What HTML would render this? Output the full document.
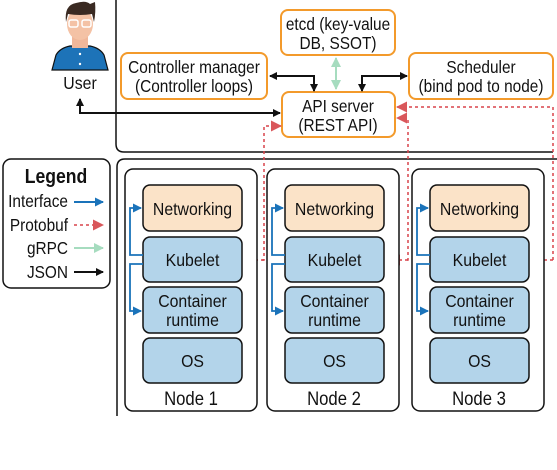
<!DOCTYPE html>
<html><head><meta charset="utf-8"><style>
html,body{margin:0;padding:0;background:#fff;}
svg{display:block;}
text{font-family:"Liberation Sans",sans-serif;fill:#111;}
</style></head><body>
<svg width="557" height="470" viewBox="0 0 557 470" xmlns="http://www.w3.org/2000/svg">
<defs>
<marker id="ab" markerWidth="8" markerHeight="8" refX="7" refY="4" orient="auto" markerUnits="userSpaceOnUse"><path d="M0,0 L8,4 L0,8 z" fill="#111"/></marker>
<marker id="ag" markerWidth="10" markerHeight="10" refX="9" refY="5" orient="auto-start-reverse" markerUnits="userSpaceOnUse"><path d="M0,0 L10,5 L0,10 z" fill="#a6dcbf"/></marker>
<marker id="ar" markerWidth="11" markerHeight="11" refX="10" refY="5.5" orient="auto" markerUnits="userSpaceOnUse"><path d="M0,0 L11,5.5 L0,11 z" fill="#d9575b"/></marker>
<marker id="au" markerWidth="9" markerHeight="9" refX="8" refY="4.5" orient="auto" markerUnits="userSpaceOnUse"><path d="M0,0 L9,4.5 L0,9 z" fill="#1a73ba"/></marker>
</defs>

<path d="M116,-5 L116,144 Q116,152 124,152 L553,152" fill="none" stroke="#111" stroke-width="1.5"/>
<path d="M117,416 L117,167 Q117,159 125,159 L557,159" fill="none" stroke="#111" stroke-width="1.5"/>

<path d="M52,70 L56,55 Q60,48 70,46 L90,46 Q100,48 104,55 L108,70 z" fill="#1d73b8" stroke="#111" stroke-width="1.2"/>
<rect x="72" y="34" width="16" height="14" fill="#f0b79a"/>
<ellipse cx="80" cy="24" rx="13" ry="16" fill="#f4c2a5"/>
<path d="M66,22 Q64,5 76,3 Q86,0 90,4 L95,2 Q96,12 94,22 L92,14 Q80,16 68,14 z" fill="#3a2a22"/>
<rect x="69" y="20" width="9" height="7" rx="2" fill="none" stroke="#fff" stroke-width="1.5"/>
<rect x="82" y="20" width="9" height="7" rx="2" fill="none" stroke="#fff" stroke-width="1.5"/>
<circle cx="80" cy="54" r="1.2" fill="#fff"/><circle cx="80" cy="64" r="1.2" fill="#fff"/>
<text transform="translate(80,89) scale(0.88,1)" font-size="18" text-anchor="middle">User</text>

<g fill="#fff" stroke="#f39a2b" stroke-width="2">
<rect x="281" y="10" width="114" height="45" rx="7"/>
<rect x="121" y="53" width="146" height="46" rx="7"/>
<rect x="409" y="53" width="144" height="46" rx="7"/>
<rect x="282" y="92" width="113" height="45" rx="7"/>
</g>
<g font-size="17.5" text-anchor="middle">
<text transform="translate(338,30) scale(0.88,1)">etcd (key-value</text><text transform="translate(338,49) scale(0.88,1)">DB, SSOT)</text>
<text transform="translate(194,73) scale(0.88,1)">Controller manager</text><text transform="translate(194,92) scale(0.88,1)">(Controller loops)</text>
<text transform="translate(481,73) scale(0.88,1)">Scheduler</text><text transform="translate(481,92) scale(0.88,1)">(bind pod to node)</text>
<text transform="translate(338,112) scale(0.88,1)">API server</text><text transform="translate(338,131) scale(0.88,1)">(REST API)</text>
</g>

<g fill="none" stroke="#111" stroke-width="2">
<path d="M314,90 L314,76 L270,76" marker-end="url(#ab)"/>
<path d="M300,76 L314,76 L314,91" marker-end="url(#ab)"/>
<path d="M362,90 L362,76 L407,76" marker-end="url(#ab)"/>
<path d="M380,76 L362,76 L362,91" marker-end="url(#ab)"/>
<path d="M200,113 L80,113 L80,99" marker-end="url(#ab)"/>
<path d="M100,113 L280,113" marker-end="url(#ab)"/>
</g>
<path d="M336,58 L336,89" stroke="#a6dcbf" stroke-width="2" fill="none" marker-start="url(#ag)" marker-end="url(#ag)"/>

<g fill="none" stroke="#d9444c" stroke-width="1.5" stroke-dasharray="3,3">
<path d="M262,260 L264,260 L264,126 L281,126" marker-end="url(#ar)"/>
<path d="M407,260 L408,260 L408,118 L397,118" marker-end="url(#ar)"/>
<path d="M553,260 L553,107 L397,107" marker-end="url(#ar)"/>
<path d="M264,260 L245,260" marker-end="url(#ar)"/>
<path d="M408,260 L390,260" marker-end="url(#ar)"/>
<path d="M553,260 L534,260" marker-end="url(#ar)"/>
</g>

<rect x="3" y="159" width="107" height="129" rx="8" fill="#fff" stroke="#111" stroke-width="1.5"/>
<text transform="translate(56,183) scale(0.88,1)" font-size="20" text-anchor="middle" font-weight="bold">Legend</text>
<g font-size="17.5" text-anchor="end">
<text transform="translate(68,207) scale(0.88,1)">Interface</text>
<text transform="translate(68,231) scale(0.88,1)">Protobuf</text>
<text transform="translate(68,254) scale(0.88,1)">gRPC</text>
<text transform="translate(68,278) scale(0.88,1)">JSON</text>
</g>
<path d="M74,202 L103,202" stroke="#1a73ba" stroke-width="2" marker-end="url(#au)"/>
<path d="M74,225 L103,225" stroke="#d9444c" stroke-width="1.5" stroke-dasharray="3,3" marker-end="url(#ar)"/>
<path d="M74,248 L103,248" stroke="#a6dcbf" stroke-width="2" marker-end="url(#ag)"/>
<path d="M74,272 L103,272" stroke="#111" stroke-width="2" marker-end="url(#ab)"/>

<g id="n1">
<rect x="125" y="169" width="132" height="242" rx="8" fill="#fff" stroke="#111" stroke-width="1.5"/>
<rect x="143" y="185" width="99" height="46" rx="7" fill="#fbe3c8" stroke="#111" stroke-width="1.5"/>
<rect x="143" y="237" width="99" height="45" rx="7" fill="#b3d4ea" stroke="#111" stroke-width="1.5"/>
<rect x="143" y="287" width="99" height="46" rx="7" fill="#b3d4ea" stroke="#111" stroke-width="1.5"/>
<rect x="143" y="338" width="99" height="45" rx="7" fill="#b3d4ea" stroke="#111" stroke-width="1.5"/>
<g font-size="18" text-anchor="middle">
<text transform="translate(192.5,215) scale(0.88,1)">Networking</text>
<text transform="translate(192.5,266) scale(0.88,1)">Kubelet</text>
<text transform="translate(192.5,307) scale(0.88,1)">Container</text><text transform="translate(192.5,326) scale(0.88,1)">runtime</text>
<text transform="translate(192.5,367) scale(0.88,1)">OS</text>
</g>
<path d="M143,255 L130,255 L130,208 L141,208" fill="none" stroke="#1a73ba" stroke-width="1.8" marker-end="url(#au)"/>
<path d="M143,264 L130,264 L130,311 L141,311" fill="none" stroke="#1a73ba" stroke-width="1.8" marker-end="url(#au)"/>
</g>
<use href="#n1" transform="translate(142,0)"/>
<use href="#n1" transform="translate(287,0)"/>
<g font-size="19" text-anchor="middle">
<text transform="translate(191,405) scale(0.88,1)">Node 1</text>
<text transform="translate(334,405) scale(0.88,1)">Node 2</text>
<text transform="translate(479,405) scale(0.88,1)">Node 3</text>
</g>
</svg>
</body></html>
